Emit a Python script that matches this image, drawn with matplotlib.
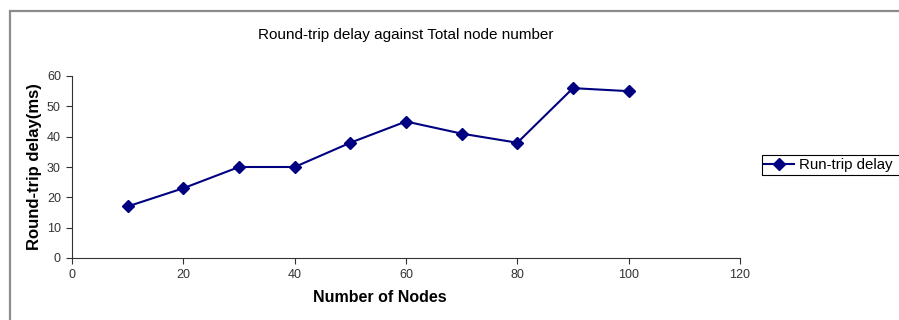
import matplotlib
matplotlib.use("Agg")
import matplotlib.pyplot as plt
from matplotlib.patches import Rectangle

plt.rcParams["font.family"] = ["Liberation Sans", "DejaVu Sans"]

nodes = [10, 20, 30, 40, 50, 60, 70, 80, 90, 100]
delay_ms = [17, 23, 30, 30, 38, 45, 41, 38, 56, 55]
x_ticks = [0, 20, 40, 60, 80, 100, 120]
y_ticks = [0, 10, 20, 30, 40, 50, 60]

W, H = 899, 320
fig = plt.figure(figsize=(W / 100, H / 100), dpi=100)

# chart frame (cut off on the right and bottom in the reference)
fig.patches.append(Rectangle((10 / W, -0.1), 1.2, 1 - 11 / H + 0.1,
                             transform=fig.transFigure, fill=False,
                             edgecolor="#8c8c8c", linewidth=1.6))
# legend box, also running past the right edge
fig.patches.append(Rectangle((762 / W, 1 - 175 / H), 0.2, 20 / H,
                             transform=fig.transFigure, fill=False,
                             edgecolor="black", linewidth=0.8))

ax = fig.add_axes([72 / W, 1 - 258 / H, (740 - 72) / W, (258 - 76) / H])
line, = ax.plot(nodes, delay_ms, color="#000080", linewidth=1.5,
                marker="D", markersize=6, label="Run-trip delay")

ax.set_xlim(0, 120)
ax.set_ylim(0, 60)
ax.set_xticks(x_ticks)
ax.set_yticks(y_ticks)
ax.tick_params(direction="out", length=4, width=0.8, labelsize=9,
               labelcolor="#333333", color="#333333", pad=4)
ax.spines["top"].set_visible(False)
ax.spines["right"].set_visible(False)
for s in ("left", "bottom"):
    ax.spines[s].set_color("#333333")
    ax.spines[s].set_linewidth(0.8)

fig.text(406 / W, 1 - 35 / H, "Round-trip delay against Total node number",
         ha="center", va="center", fontsize=11)
fig.text(380 / W, 1 - 297 / H, "Number of Nodes", ha="center", va="center",
         fontsize=11.5, fontweight="bold")
fig.text(35 / W, 1 - 167 / H, "Round-trip delay(ms)", ha="center", va="center",
         rotation=90, fontsize=12, fontweight="bold")

leg = fig.legend(handles=[line], loc="center left",
                 bbox_to_anchor=(762 / W, 1 - 165 / H), fontsize=10.8,
                 frameon=False, borderpad=0.15,
                 handlelength=2.0, handletextpad=0.3, borderaxespad=0)

fig.savefig("out.png", dpi=100)
